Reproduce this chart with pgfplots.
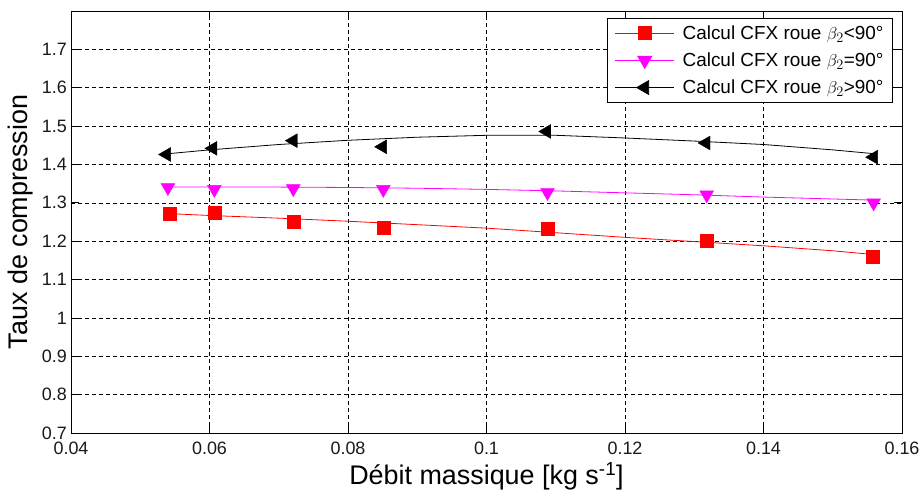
\documentclass[border=0pt]{standalone}
\usepackage{fontspec}
\setmainfont{Liberation Sans}
\usepackage{pgfplots}
\pgfplotsset{compat=1.18}
\definecolor{mag}{RGB}{255,0,255}
\definecolor{rd}{RGB}{255,0,0}
\begin{document}
\begin{tikzpicture}
\useasboundingbox (-71bp,-70bp) rectangle (850bp,433bp);
\begin{axis}[
  at={(0,0)}, anchor=south west,
  scale only axis, width=831bp, height=422bp,
  xmin=0.04, xmax=0.16, ymin=0.7, ymax=1.8,
  xtick={0.04,0.06,0.08,0.1,0.12,0.14,0.16},
  xticklabels={0.04,0.06,0.08,0.1,0.12,0.14,0.16},
  ytick={0.7,0.8,0.9,1.0,1.1,1.2,1.3,1.4,1.5,1.6,1.7},
  yticklabels={0.7,0.8,0.9,1,1.1,1.2,1.3,1.4,1.5,1.6,1.7},
  tick align=inside, major tick length=8bp,
  tick style={black, line width=0.8bp},
  axis line style={black, line width=0.9bp},
  grid=major,
  major grid style={black, line width=0.6bp, dash pattern=on 4bp off 3bp},
  ticklabel style={font=\fontsize{18}{20}\selectfont, text=black!90},
  xticklabel style={yshift=-8bp, inner sep=1bp},
  yticklabel style={inner sep=1bp, xshift=-3bp},
  every axis y label/.style={at={(axis description cs:0,0.5)}, xshift=-50bp, rotate=90, anchor=center},
  every axis x label/.style={at={(axis description cs:0.5,0)}, yshift=-43bp, anchor=center},
  xlabel={D\'ebit massique [kg s\textsuperscript{-1}]},
  ylabel={Taux de compression},
  label style={font=\fontsize{27}{30}\selectfont},
  legend style={at={(rel axis cs:0.989,0.983)}, anchor=north east,
    draw=black, line width=0.8bp, fill=white,
    font=\fontsize{19}{22}\selectfont, row sep=8bp,
    inner xsep=7bp, inner ysep=5bp,
    /tikz/every odd column/.append style={column sep=6bp}},
  legend cell align=left,
  legend image code/.code={\draw[#1, mark repeat=2, mark phase=2] plot coordinates {(0bp,0bp) (29.5bp,0bp) (59bp,0bp)};},
]
% red fit line and markers
\addplot[rd, line width=0.8bp, forget plot] coordinates {
(0.054,1.272) (0.06,1.267) (0.07,1.260) (0.08,1.252) (0.09,1.243) (0.10,1.234)
(0.11,1.222) (0.12,1.210) (0.13,1.199) (0.14,1.188) (0.15,1.175) (0.156,1.165)};
\addplot[rd, only marks, mark=square*, mark size=6.5bp, forget plot] coordinates {
(0.0542,1.271) (0.0607,1.275) (0.0721,1.251) (0.0851,1.236) (0.1088,1.233) (0.1318,1.201) (0.1558,1.160)};
% magenta fit line and markers
\addplot[mag, line width=0.8bp, forget plot] coordinates {
(0.054,1.341) (0.07,1.341) (0.08,1.340) (0.09,1.338) (0.10,1.335) (0.11,1.331)
(0.12,1.326) (0.13,1.321) (0.14,1.315) (0.15,1.310) (0.156,1.307)};
\addplot[mag, only marks, mark=triangle*, mark size=8bp, mark options={rotate=180}, forget plot] coordinates {
(0.054,1.340) (0.0607,1.335) (0.0721,1.337) (0.0851,1.335) (0.1088,1.327) (0.1318,1.321) (0.1559,1.300)};
% black fit line and markers
\addplot[black, line width=0.8bp, forget plot] coordinates {
(0.054,1.428) (0.06,1.438) (0.07,1.452) (0.08,1.463) (0.09,1.471) (0.10,1.476)
(0.11,1.476) (0.12,1.469) (0.13,1.461) (0.14,1.452) (0.15,1.438) (0.156,1.428)};
\addplot[black, only marks, mark=triangle*, mark size=8bp, mark options={rotate=90}, forget plot] coordinates {
(0.0538,1.426) (0.0605,1.442) (0.0721,1.462) (0.0850,1.446) (0.1087,1.486) (0.1317,1.456) (0.1559,1.419)};
\addlegendimage{rd, line width=0.8bp, mark=square*, mark size=6.5bp}
\addlegendentry{Calcul CFX roue $\beta_2$<90°}
\addlegendimage{mag, line width=0.8bp, mark=triangle*, mark size=8bp, mark options={rotate=180}}
\addlegendentry{Calcul CFX roue $\beta_2$=90°}
\addlegendimage{black, line width=0.8bp, mark=triangle*, mark size=8bp, mark options={rotate=90}}
\addlegendentry{Calcul CFX roue $\beta_2$>90°}
\end{axis}
\end{tikzpicture}
\end{document}
